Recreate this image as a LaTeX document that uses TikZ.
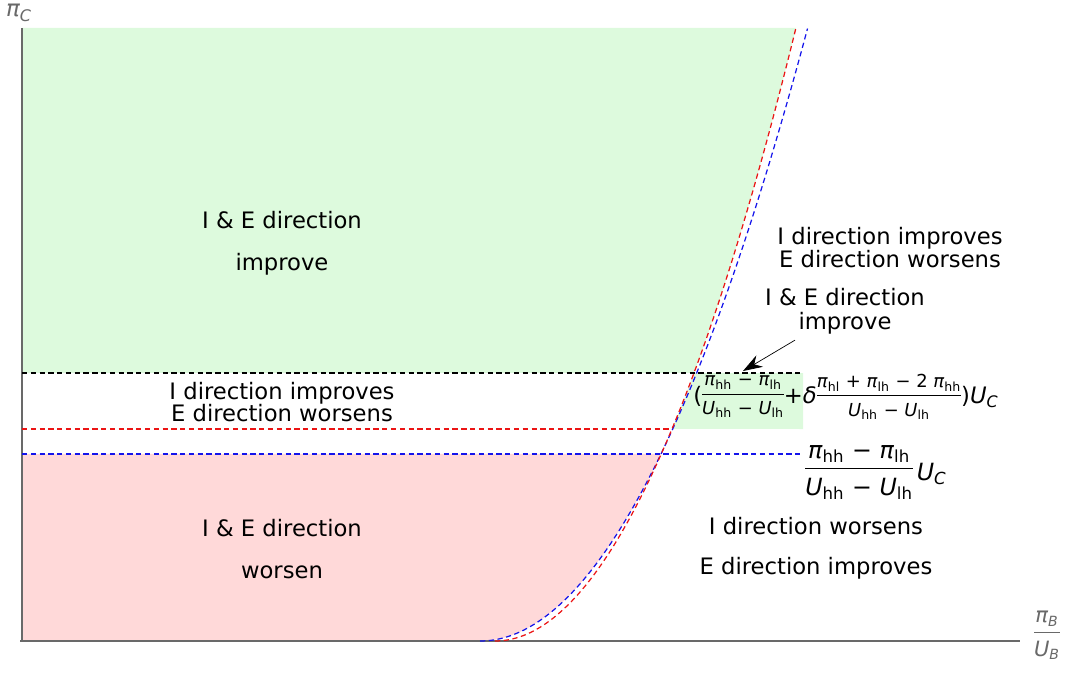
\documentclass[tikz,border=0pt]{standalone}
\usepackage{amsmath}
\usepackage{fontspec}
\setmainfont{DejaVu Sans}
\usepackage{tikz}
\usetikzlibrary{arrows.meta}
\definecolor{improvegreen}{RGB}{221,250,221}
\definecolor{worsenpink}{RGB}{255,217,217}
\definecolor{axisgray}{RGB}{105,105,105}
\definecolor{curvered}{RGB}{235,20,20}
\definecolor{curveblue}{RGB}{20,20,235}
\setlength{\arrayrulewidth}{0.5pt}
\newcommand{\fr}[3][]{{\renewcommand{\arraystretch}{0}\begin{tabular}{@{}c@{}}#1\rule[-0.42em]{0pt}{0.8em}#2\\\hline#1\rule{0pt}{1.12em}#3\rule[-0.3em]{0pt}{0pt}\end{tabular}}}
\newcommand{\smallfr}{\fontsize{10.2}{12}\selectfont}
\newcommand{\sub}[2]{\textit{#1}\textsubscript{#2}}
\newcommand{\isub}[2]{\textit{#1\textsubscript{#2}}}

\begin{document}
\begin{tikzpicture}[x=0.02cm, y=-0.02cm,
  region/.style={align=center, font=\fontsize{12.9}{#1}\selectfont},
  hline/.style={line width=0.7pt, dash pattern=on 3pt off 2pt},
  curve/.style={line width=0.7pt, dash pattern=on 3pt off 2pt, smooth, samples=60}]
\useasboundingbox (0,0) rectangle (1067,675);
\fill[improvegreen] (22,28) -- (796,28) -- plot[domain=796:694, samples=40] (\x,{641-67.7*((\x-495)/100)^2}) -- (22,373) -- cycle;
\fill[improvegreen] (803,373) -- (694,373) -- plot[domain=694:672, samples=10] (\x,{641-67.7*((\x-495)/100)^2}) -- (803,429) -- cycle;
\fill[worsenpink] (22,454) -- plot[domain=661:480, samples=40] (\x,{641-57.1*((\x-480)/100)^2}) -- (22,641) -- cycle;
\draw[axisgray, line width=0.7pt] (22,641) -- (22,28);
\draw[axisgray, line width=0.7pt] (20,641) -- (1020,641);
\draw[hline] (22,373) -- (803,373);
\draw[hline, curvered] (22,429) -- (672,429);
\draw[hline, curveblue] (22,454) -- (800,454);
\draw[curve, curveblue] plot[domain=480:807.5] (\x,{641-57.1*((\x-480)/100)^2});
\draw[curve, curvered] plot[domain=495:796] (\x,{641-67.7*((\x-495)/100)^2});
\node at (19,13) [name=ylabel, text=axisgray, font=\fontsize{13}{15}\selectfont] {\isub{π}{C}};
\node at (1047,637) [name=xlabel, text=axisgray, font=\fontsize{12}{14}\selectfont] {\fr{\isub{π}{B}}{\isub{U}{B}}};
\node at (282,243) [name=ieimprove, region=24] {I \& E direction\\improve};
\node at (890,248) [name=ionly, region=13.1] {I direction improves\\E direction worsens};
\node at (845,311) [name=ieimprovemid, region=13.6] {I \& E direction\\improve};
\node at (282,402) [name=ionlyleft, region=12.5] {I direction improves\\E direction worsens};
\node at (282,549) [name=ieworsen, region=24] {I \& E direction\\worsen};
\node at (816,548) [name=eonly, region=22.8] {I direction worsens\\E direction improves};
\node at (846,398) [name=thresholdhigh, font=\fontsize{12.9}{15}\selectfont] {(\fr[\smallfr]{\sub{π}{hh} − \sub{π}{lh}}{\sub{U}{hh} − \sub{U}{lh}}+\textit{δ}\fr[\smallfr]{\sub{π}{hl} + \sub{π}{lh} − 2 \sub{π}{hh}}{\sub{U}{hh} − \sub{U}{lh}})\isub{U}{C}};
\node at (876,474) [name=thresholdlow, font=\fontsize{13.5}{16}\selectfont] {\fr{\sub{π}{hh} − \sub{π}{lh}}{\sub{U}{hh} − \sub{U}{lh}}\,\isub{U}{C}};
\coordinate (arrowtip) at (743,371);
\draw[-{Stealth[length=11pt, width=7.5pt]}] ([xshift=-1cm]ieimprovemid.south) -- (arrowtip);
\end{tikzpicture}
\end{document}
